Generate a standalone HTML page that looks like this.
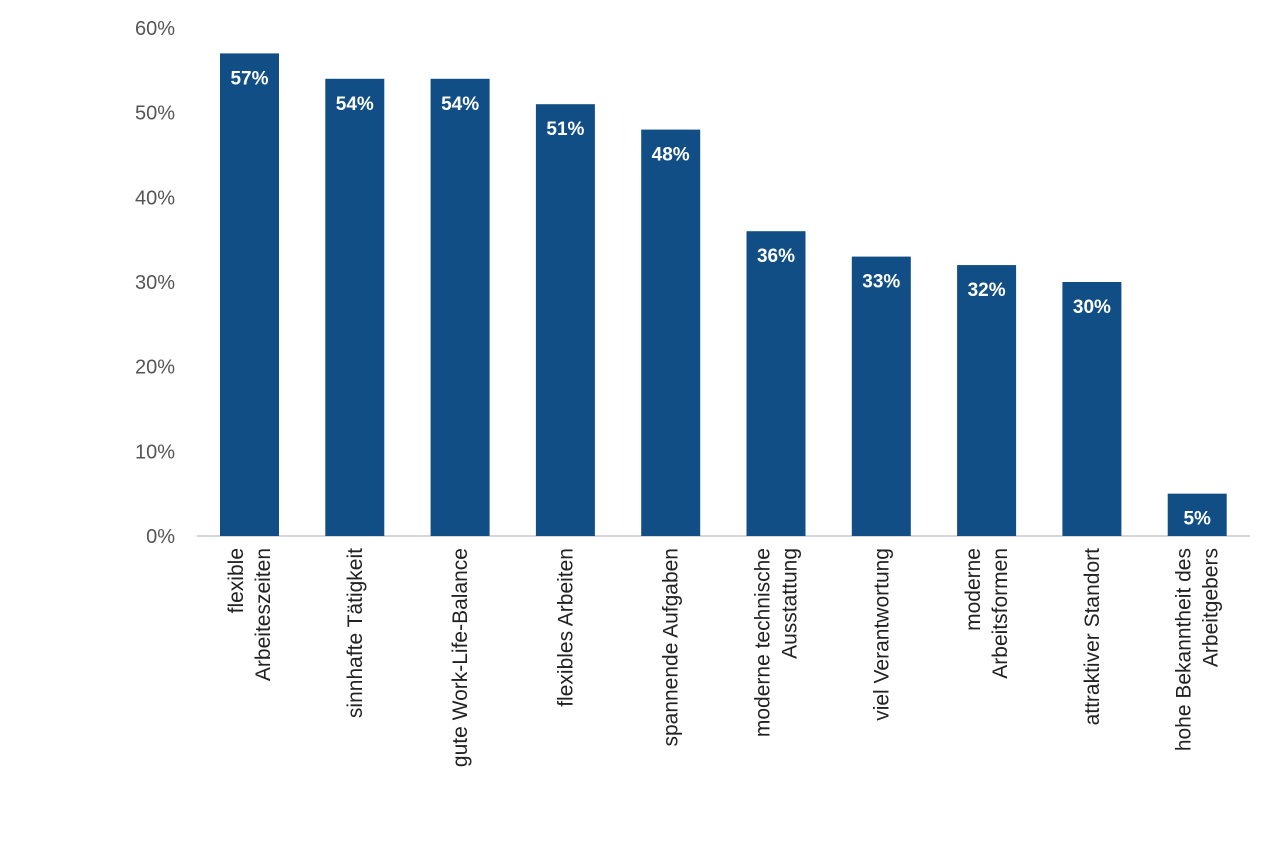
<!DOCTYPE html>
<html><head><meta charset="utf-8"><style>
html,body{margin:0;padding:0;background:#fff;}
svg{display:block;font-family:"Liberation Sans",Arial,sans-serif;}
</style></head><body>
<svg id="chart" width="1280" height="856" viewBox="0 0 1280 856" xmlns="http://www.w3.org/2000/svg"></svg>
<script>
const categories = [
  ["flexible","Arbeiteszeiten"],
  ["sinnhafte Tätigkeit"],
  ["gute Work-Life-Balance"],
  ["flexibles Arbeiten"],
  ["spannende Aufgaben"],
  ["moderne technische","Ausstattung"],
  ["viel Verantwortung"],
  ["moderne","Arbeitsformen"],
  ["attraktiver Standort"],
  ["hohe Bekanntheit des","Arbeitgebers"]
];
const values = [57,54,54,51,48,36,33,32,30,5];
const tickValues = [0,10,20,30,40,50,60];

const NS="http://www.w3.org/2000/svg";
const svg=document.getElementById('chart');
const y0=536, yTop=28, maxV=60;
const yScale=v=>y0-(v/maxV)*(y0-yTop);
const xStart=197, step=105.3, barW=59;
const xCenter=i=>xStart+52.5+i*step;
function mk(tag,attrs){const e=document.createElementNS(NS,tag);for(const k in attrs)e.setAttribute(k,attrs[k]);return e;}

tickValues.forEach(t=>{
  const tx=mk('text',{x:175,y:yScale(t)+7,'text-anchor':'end','font-size':20,fill:'#555'});
  
  
  tx.textContent=t+'%';
  svg.appendChild(tx);
});

const axis=mk('line',{x1:xStart,x2:1250,y1:y0,y2:y0,stroke:'#c8c8c8','stroke-width':1.5});


svg.appendChild(axis);

values.forEach((v,i)=>{
  const cx=xCenter(i);
  const r=mk('rect',{x:cx-barW/2,y:yScale(v),width:barW,height:y0-yScale(v),fill:'#104e85'});
  
  
  svg.appendChild(r);
  const t=mk('text',{x:cx,y:yScale(v)+31,'text-anchor':'middle','font-size':19,'font-weight':'bold',fill:'#fff'});
  
  
  t.textContent=v+'%';
  svg.appendChild(t);
  const lines=categories[i];
  const lh=27;
  lines.forEach((ln,j)=>{
    const off=(j-(lines.length-1)/2)*lh;
    const lx=cx+off+7;
    const lt=mk('text',{x:lx,y:548,'text-anchor':'end','font-size':21,fill:'#222',transform:`rotate(-90 ${lx} 548)`});
    
    
    lt.textContent=ln;
    svg.appendChild(lt);
  });
});
</script>
</body></html>
